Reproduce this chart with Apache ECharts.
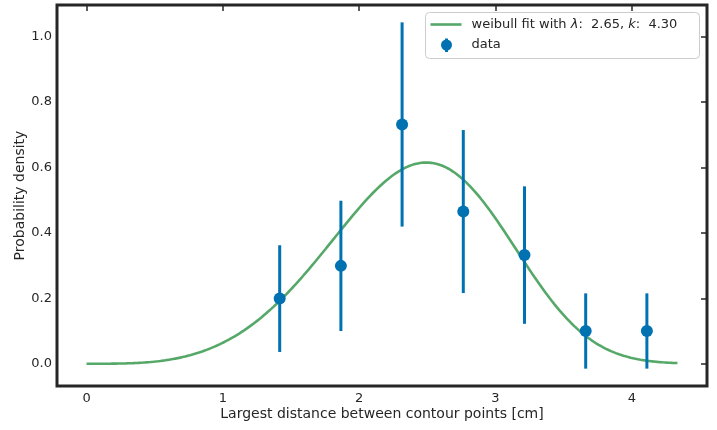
<!DOCTYPE html>
<html>
<head>
<meta charset="utf-8">
<script src="https://cdn.jsdelivr.net/npm/echarts@6/dist/echarts.min.js"></script>
<style>
  html, body { margin: 0; padding: 0; background: #ffffff; }
  #chart { width: 717px; height: 430px; }
</style>
</head>
<body>
<div id="chart"></div>
<script>
// Histogram bin centres [cm]
const binCenters = [1.417, 1.866, 2.315, 2.764, 3.213, 3.662, 4.111];
// Probability density of each bin
const density = [0.199, 0.299, 0.731, 0.465, 0.332, 0.100, 0.100];
// Half-length of each error bar
const densityErr = [0.163, 0.199, 0.312, 0.249, 0.210, 0.115, 0.115];
// Fitted Weibull parameters and the range the fit is drawn over
const weibullLambda = 2.65;
const weibullK = 4.30;
const fitRange = [0, 4.335];
// Tick labels
const xTicks = [0, 1, 2, 3, 4];
const yTicks = [0.0, 0.2, 0.4, 0.6, 0.8, 1.0];

const TEXT = '#262626';
const BLUE = '#0072B2';
const GREEN = '#55A868';
const FONT = 'DejaVu Sans';

function weibullPdf(x) {
  if (x <= 0) return 0;
  const r = x / weibullLambda;
  return (weibullK / weibullLambda) * Math.pow(r, weibullK - 1) * Math.exp(-Math.pow(r, weibullK));
}

const fitCurve = [];
const steps = 240;
for (let i = 0; i <= steps; i++) {
  const x = fitRange[0] + (fitRange[1] - fitRange[0]) * i / steps;
  fitCurve.push([x, weibullPdf(x)]);
}

const points = binCenters.map((x, i) => [x, density[i]]);
const bars = binCenters.map((x, i) => [x, density[i] - densityErr[i], density[i] + densityErr[i]]);

const xMin = -0.2168, xMax = 4.552;
const yMin = -0.068, yMax = 1.096;

const chart = echarts.init(document.getElementById('chart'), null, { renderer: 'canvas' });

chart.setOption({
  animation: false,
  backgroundColor: '#ffffff',
  textStyle: { fontFamily: FONT },
  grid: {
    left: 57, right: 10, top: 5, bottom: 44,
    show: true,
    borderColor: TEXT,
    borderWidth: 3,
    backgroundColor: 'transparent'
  },
  xAxis: [
    {
      type: 'value', min: xMin, max: xMax, position: 'bottom',
      axisLine: { show: false, onZero: false },
      axisTick: { show: false },
      splitLine: { show: false },
      axisLabel: {
        customValues: xTicks, color: TEXT, fontSize: 13, fontFamily: FONT, margin: 6,
        formatter: v => String(v)
      },
      name: 'Largest distance between contour points [cm]',
      nameLocation: 'middle', nameGap: 21, nameMoveOverlap: false,
      nameTextStyle: { color: TEXT, fontSize: 14, fontFamily: FONT }
    },
    {
      type: 'value', min: xMin, max: xMax, position: 'top',
      axisLine: { show: false, onZero: false },
      axisTick: { show: true, inside: true, length: 6, customValues: xTicks, lineStyle: { color: TEXT, width: 1.5 } },
      axisLabel: { show: false },
      splitLine: { show: false }
    }
  ],
  yAxis: [
    {
      type: 'value', min: yMin, max: yMax, position: 'left',
      axisLine: { show: false, onZero: false },
      axisTick: { show: false },
      splitLine: { show: false },
      axisLabel: {
        customValues: yTicks, color: TEXT, fontSize: 13, fontFamily: FONT, margin: 5,
        formatter: v => v.toFixed(1)
      },
      name: 'Probability density',
      nameLocation: 'middle', nameGap: 30, nameMoveOverlap: false,
      nameTextStyle: { color: TEXT, fontSize: 14, fontFamily: FONT }
    },
    {
      type: 'value', min: yMin, max: yMax, position: 'right',
      axisLine: { show: false, onZero: false },
      axisTick: { show: true, inside: true, length: 6, customValues: yTicks, lineStyle: { color: TEXT, width: 1.5 } },
      axisLabel: { show: false },
      splitLine: { show: false }
    }
  ],
  series: [
    {
      name: 'weibull fit',
      type: 'line',
      data: fitCurve,
      showSymbol: false,
      symbol: 'none',
      smooth: false,
      lineStyle: { color: GREEN, width: 2.6 },
      z: 2
    },
    {
      name: 'error bars',
      type: 'custom',
      data: bars,
      encode: { x: 0, y: [1, 2] },
      renderItem: function (params, api) {
        const lo = api.coord([api.value(0), api.value(1)]);
        const hi = api.coord([api.value(0), api.value(2)]);
        return {
          type: 'line',
          shape: { x1: lo[0], y1: lo[1], x2: hi[0], y2: hi[1] },
          style: { stroke: BLUE, lineWidth: 3 }
        };
      },
      z: 3
    },
    {
      name: 'data',
      type: 'scatter',
      data: points,
      symbol: 'circle',
      symbolSize: 12,
      itemStyle: { color: BLUE, opacity: 1 },
      z: 4
    }
  ],
  graphic: [
    {
      type: 'group',
      left: 425, top: 12,
      children: [
        {
          type: 'rect',
          shape: { x: 0, y: 0, width: 274, height: 46, r: 4 },
          style: { fill: 'rgba(255,255,255,0.8)', stroke: '#cccccc', lineWidth: 1 }
        },
        {
          type: 'line',
          shape: { x1: 5, y1: 12, x2: 36, y2: 12 },
          style: { stroke: GREEN, lineWidth: 2.6 }
        },
        {
          type: 'text',
          x: 46, y: 12,
          style: {
            text: 'weibull fit with {i|λ}:  2.65, {i|k}:  4.30',
            fill: TEXT, fontSize: 13, fontFamily: FONT,
            verticalAlign: 'middle', align: 'left',
            rich: { i: { fontStyle: 'italic', fontSize: 13, fontFamily: FONT, fill: TEXT } }
          }
        },
        {
          type: 'line',
          shape: { x1: 21, y1: 26, x2: 21, y2: 39.5 },
          style: { stroke: BLUE, lineWidth: 3 }
        },
        {
          type: 'circle',
          shape: { cx: 21, cy: 32.5, r: 5.5 },
          style: { fill: BLUE }
        },
        {
          type: 'text',
          x: 46, y: 32.5,
          style: {
            text: 'data', fill: TEXT, fontSize: 13, fontFamily: FONT,
            verticalAlign: 'middle', align: 'left'
          }
        }
      ]
    }
  ]
});
</script>
</body>
</html>
